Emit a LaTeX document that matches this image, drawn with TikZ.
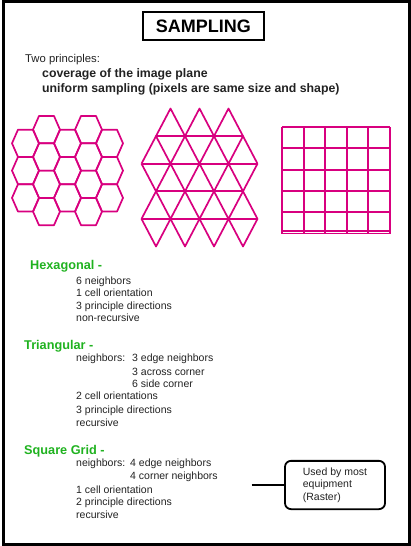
\documentclass[tikz,border=0pt]{standalone}
\usepackage{fontspec}
\setmainfont{Liberation Sans}
\usetikzlibrary{positioning}
\definecolor{Ink}{HTML}{222222}
\definecolor{Rose}{HTML}{D8007F}
\definecolor{Leaf}{HTML}{1FB21F}

\begin{document}
\begin{tikzpicture}[x=1pt,y=-1pt,
  cell/.style={Rose,line width=1.7pt,line join=round},
  item/.style={anchor=base west,inner sep=0pt,text=Ink,font=\fontsize{10.5}{12.5}\selectfont},
  lead/.style={anchor=base west,inner sep=0pt,text=Ink,font=\bfseries\fontsize{12.3}{14}\selectfont},
  heading/.style={anchor=base west,inner sep=0pt,text=Leaf,font=\bfseries\fontsize{12.7}{15}\selectfont}]
\useasboundingbox (0,0) rectangle (411,546);
% outer frame
\draw[line width=3pt] (3.5,1.2) rectangle (409,544);
% title
\node[draw,line width=2pt,minimum width=121.3pt,minimum height=27.7pt,inner sep=0pt,
  font=\bfseries\fontsize{18}{20}\selectfont] (title) at (203.4,26.2) {SAMPLING};
\node[item,font=\fontsize{11.3}{13}\selectfont] (twoprin) at (25,62.5) {Two principles:};
\node[lead] (cover) at (42,77) {coverage of the image plane};
\node[lead] (uniform) at (42,92.5) {uniform sampling (pixels are same size and shape)};
% hexagonal tiling
\foreach \col in {0,2,4}
  \foreach \row in {0,1,2}
    \draw[cell] ({25.5+21*\col},{143.3+27.3*\row}) ++(-13.5,0) -- ++(6,-13.65) -- ++(15,0)
      -- ++(6,13.65) -- ++(-6,13.65) -- ++(-15,0) -- cycle;
\foreach \col in {1,3}
  \foreach \row in {0,1,2,3}
    \draw[cell] ({25.5+21*\col},{129.65+27.3*\row}) ++(-13.5,0) -- ++(6,-13.65) -- ++(15,0)
      -- ++(6,13.65) -- ++(-6,13.65) -- ++(-15,0) -- cycle;
% triangular tiling
\draw[cell] (156,136.1) \foreach \j in {1,2,3} { -- ({141.5+29*\j},108.5) -- ({156+29*\j},136.1) };
\foreach \ya/\yb in {163.7/136.1,163.7/191.3,218.9/191.3,218.9/246.5}
  \draw[cell] (141.5,\ya) \foreach \j in {0,...,3} { -- ({156+29*\j},\yb) -- ({170.5+29*\j},\ya) };
\foreach \yy in {136.1,191.3}
  \draw[cell] (156,\yy) -- (243,\yy);
\foreach \yy in {163.7,218.9}
  \draw[cell] (141.5,\yy) -- (257.5,\yy);
% square grid
\foreach \i in {0,...,5} {
  \draw[cell,line width=1.9pt] ({282+21.6*\i},127) -- ({282+21.6*\i},233.5);
  \draw[cell,line width=1.9pt] (282,{127+21.3*\i}) -- (390,{127+21.3*\i});
}
\draw[cell,line width=1.5pt] (282,231) -- (390,231);
% hexagonal
\node[heading] (hexhead) at (30,269.5) {Hexagonal -};
\node[item] (hexnb) at (76,284) {6 neighbors};
\node[item] (hexor) at (76,296) {1 cell orientation};
\node[item] (hexdir) at (76,309.5) {3 principle directions};
\node[item] (hexrec) at (76,321.5) {non-recursive};
% triangular
\node[heading] (trihead) at (24,349.5) {Triangular -};
\node[item] (trinb) at (76,361.5) {neighbors:};
\node[item] (triedge) at (132,361.5) {3 edge neighbors};
\node[item] (triacross) at (132,375.5) {3 across corner};
\node[item] (triside) at (132,387) {6 side corner};
\node[item] (trior) at (76,399.5) {2 cell orientations};
\node[item] (tridir) at (76,413) {3 principle directions};
\node[item] (trirec) at (76,426) {recursive};
% square grid
\node[heading] (sqhead) at (24,454.5) {Square Grid -};
\node[item] (sqnb) at (76,466.5) {neighbors:};
\node[item] (sqedge) at (130,466.5) {4 edge neighbors};
\node[item] (sqcorner) at (130,479.5) {4 corner neighbors};
\node[item] (sqor) at (76,493) {1 cell orientation};
\node[item] (sqdir) at (76,505.5) {2 principle directions};
\node[item] (sqrec) at (76,518) {recursive};
% callout
\node[draw,line width=1.8pt,rounded corners=6pt,minimum width=100pt,minimum height=48.3pt,
  inner sep=0pt,align=left,text=Ink,font=\fontsize{10.5}{12.5}\selectfont] (callout) at (335,485)
  {Used by most\\equipment\\(Raster)};
\coordinate (calloutlead) at (251.7,485);
\draw[line width=1.8pt] (calloutlead) -- (callout.west);
\end{tikzpicture}
\end{document}
